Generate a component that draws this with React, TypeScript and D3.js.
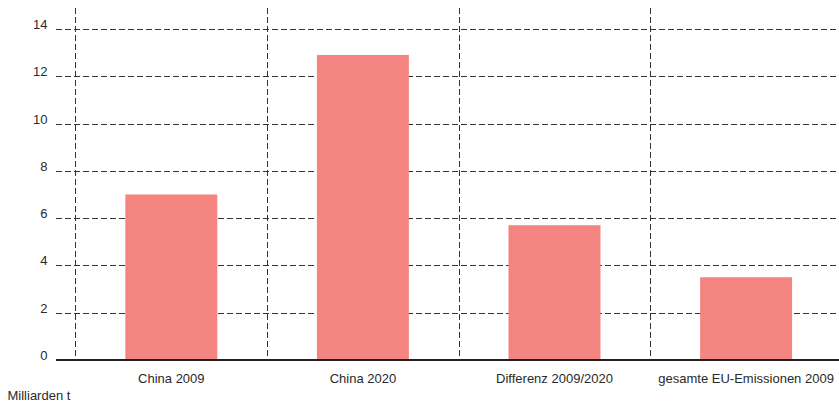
import React from "react";
import * as d3 from "d3";

// CO2 emissions, in billions of tonnes
const categories = ["China 2009", "China 2020", "Differenz 2009/2020", "gesamte EU-Emissionen 2009"];
const values = [7.0, 12.9, 5.7, 3.5];
const yTicks = [0, 2, 4, 6, 8, 10, 12, 14];
const unitLabel = "Milliarden t";

const W = 839;
const H = 402;
const FONT = "'Liberation Sans', Arial, Helvetica, sans-serif";

export default function App() {
  const pad = 0.52;
  const x = d3
    .scaleBand<string>()
    .domain(categories)
    .range([75.5, 75.5 + 4 * 191.6])
    .paddingInner(pad)
    .paddingOuter(pad / 2);
  const y = d3.scaleLinear().domain([0, 14]).range([360, 29]);
  const half = (x.step() - x.bandwidth()) / 2;

  return (
    <svg width={W} height={H} style={{ position: "absolute", left: 0, top: 0 }} fontFamily={FONT}>
      {/* horizontal dashed gridlines */}
      {yTicks
        .filter((t) => t > 0)
        .map((t) => (
          <line
            key={"h" + t}
            x1={56}
            x2={W}
            y1={Math.round(y(t)) + 0.5}
            y2={Math.round(y(t)) + 0.5}
            stroke="#333"
            strokeWidth={1}
            strokeDasharray="6,3"
          />
        ))}
      {/* vertical dashed separators between categories */}
      {categories.map((c) => {
        const xv = Math.round((x(c) as number) - half) + 0.5;
        return (
          <line
            key={"v" + c}
            x1={xv}
            x2={xv}
            y1={8}
            y2={360}
            stroke="#333"
            strokeWidth={1}
            strokeDasharray="6,3"
          />
        );
      })}
      {/* bars */}
      {categories.map((c, i) => (
        <rect
          key={"b" + c}
          x={x(c) as number}
          y={y(values[i])}
          width={x.bandwidth()}
          height={y(0) - y(values[i])}
          fill="#f3847f"
        />
      ))}
      {/* baseline */}
      <line x1={56} x2={W} y1={360} y2={360} stroke="#231f20" strokeWidth={2} />
      {/* y tick labels */}
      {yTicks.map((t) => (
        <text key={"t" + t} x={47.5} y={y(t)} textAnchor="end" fontSize={13} fill="#2a2a2a">
          {t}
        </text>
      ))}
      {/* category labels */}
      {categories.map((c) => (
        <text
          key={"l" + c}
          x={(x(c) as number) + x.bandwidth() / 2}
          y={382.5}
          textAnchor="middle"
          fontSize={13}
          fill="#2a2a2a"
        >
          {c}
        </text>
      ))}
      <text x={7.5} y={400} fontSize={13} fill="#2a2a2a">
        {unitLabel}
      </text>
    </svg>
  );
}
